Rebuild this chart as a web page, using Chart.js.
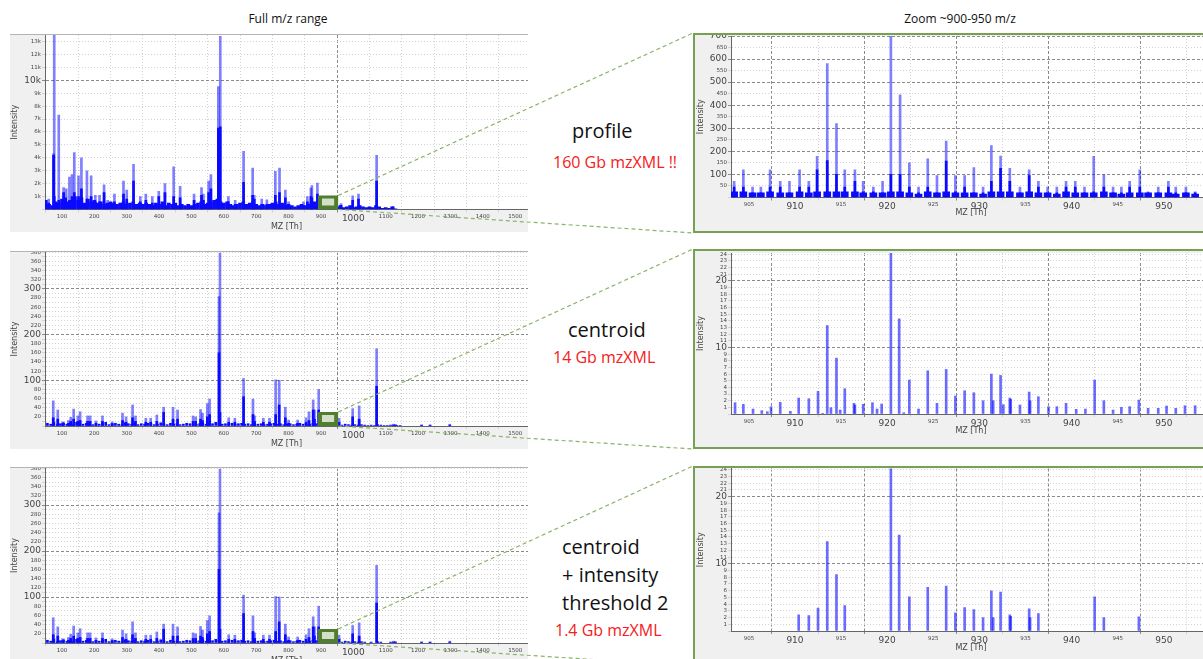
<!DOCTYPE html>
<html>
<head>
<meta charset="utf-8">
<script src="https://cdn.jsdelivr.net/npm/chart.js@4.4.0/dist/chart.umd.min.js"></script>
<style>
body { margin: 0; width: 1203px; height: 659px; overflow: hidden; background: #fff; position: relative; }
.panel { position: absolute; background: #f0f0f0; box-sizing: border-box; overflow: hidden; }
.left { border-top: 1px solid #b4b4b4; }
.right { border: 2px solid #76a152; }
canvas { display: block; }
.txt { position: absolute; white-space: nowrap; line-height: 1; font-family: "Open Sans", sans-serif; color: #111; }
.red { color: #f52020; font-size: 16px; }
.big { font-size: 20px; }
#overlay { position: absolute; left: 0; top: 0; pointer-events: none; }
</style>
</head>
<body>

<div class="txt" style="left:238px;top:13px;width:100px;text-align:center;font-size:12px">Full m/z range</div>
<div class="txt" style="left:890px;top:13px;width:140px;text-align:center;font-size:12px">Zoom ~900-950 m/z</div>

<div class="panel left" style="left:10px;top:34px;width:518px;height:198px"><canvas id="l1" width="518" height="197"></canvas></div>
<div class="panel left" style="left:10px;top:251px;width:518px;height:198px"><canvas id="l2" width="518" height="197"></canvas></div>
<div class="panel left" style="left:10px;top:467px;width:518px;height:200px"><canvas id="l3" width="518" height="199"></canvas></div>

<div class="panel right" id="rp1" style="left:693px;top:33px;width:540px;height:200px"><canvas id="r1" width="536" height="196"></canvas></div>
<div class="panel right" id="rp2" style="left:693px;top:249px;width:540px;height:200px"><canvas id="r2" width="536" height="196"></canvas></div>
<div class="panel right" id="rp3" style="left:693px;top:466px;width:540px;height:200px"><canvas id="r3" width="536" height="196"></canvas></div>

<div class="txt big" style="left:572px;top:121px">profile</div>
<div class="txt red" style="left:553px;top:154px">160 Gb mzXML !!</div>

<div class="txt big" style="left:568px;top:320px">centroid</div>
<div class="txt red" style="left:553px;top:349px">14 Gb mzXML</div>

<div class="txt big" style="left:562px;top:537px">centroid</div>
<div class="txt big" style="left:562px;top:565px">+ intensity</div>
<div class="txt big" style="left:562px;top:593px">threshold 2</div>
<div class="txt red" style="left:555px;top:622px">1.4 Gb mzXML</div>

<canvas id="overlay" width="1203" height="659"></canvas>

<script>
// --- dati ---
const zoomRange = [900, 950];
const threshold = 2;

// profile, full range (m/z, apice, parte scura)
const fullProfileMz = [59, 74, 76, 90, 105, 113, 123, 131, 138, 151, 160, 177, 190, 203, 216, 230, 241, 262, 290, 300,
  321, 342, 359, 379, 399, 418, 445, 465, 508, 531, 537, 553, 560, 583, 589, 614, 635, 661, 689, 694,
  717, 733, 759, 772, 790, 800, 846, 858, 869, 872, 889, 962, 998, 1016, 1072, 1123];
const fullProfileApex = [800, 4300, 13500, 7300, 1700, 1600, 2500, 2700, 4400, 2600, 4000, 3000, 2600, 1100, 1100, 1900, 700, 1200, 2200, 1500,
  3500, 1000, 1200, 1000, 1400, 2000, 3300, 1800, 1200, 1700, 1200, 2200, 2700, 9500, 13400, 1000, 700, 4500, 3200, 1100,
  800, 750, 2950, 3200, 1500, 600, 600, 1000, 1650, 1850, 2050, 450, 1050, 1200, 4200, 250];
const fullProfileCore = [500, 4200, 1000, 700, 1300, 500, 700, 1000, 1300, 1000, 1600, 800, 1000, 600, 600, 1300, 400, 600, 1200, 800,
  2200, 600, 700, 500, 1000, 1300, 1000, 900, 700, 1100, 700, 1300, 1600, 6300, 6400, 600, 400, 2100, 1100, 800,
  400, 400, 1100, 1300, 900, 300, 300, 600, 1000, 900, 1200, 300, 700, 800, 2200, 150];
// fondo denso, un valore ogni 10 m/z da 50
const fullProfileGrassStart = 50;
const fullProfileGrass = [700, 400, 300, 600, 500, 800, 900, 600, 700, 1000,
  700, 900, 500, 800, 600, 700, 500, 600, 400, 500,
  600, 500, 400, 500, 600, 400, 500, 600, 400, 500,
  400, 500, 400, 300, 500, 400, 600, 300, 500, 400,
  500, 300, 400, 300, 400, 300, 400, 500, 600, 400,
  500, 600, 700, 800, 600, 500, 600, 400, 300, 400,
  500, 600, 400, 500, 600, 400, 300, 400, 300, 400,
  500, 600, 400, 500, 300, 400, 300, 200, 300, 400,
  300, 400, 500, 600, 300, 200, 300, 400, 300, 200,
  200, 300, 150, 200, 300, 150, 200, 300, 200, 150,
  200, 150, 300, 200, 100, 150, 100, 200, 50];

// centroid, full range
const fullCentroidMz = [73, 87, 102, 120, 127, 136, 149, 156, 179, 187, 205, 225, 255, 287, 298, 318, 327, 359, 374, 393,
  414, 443, 457, 505, 513, 528, 534, 549, 556, 585, 588, 615, 634, 661, 690, 695, 722, 741, 760, 771,
  790, 800, 828, 854, 863, 876, 880, 893, 956, 998, 1018, 1072, 1124, 1130, 1211, 1237, 1298];
const fullCentroidApex = [55, 35, 9, 12, 19, 37, 22, 31, 22, 22, 11, 22, 9, 28, 20, 46, 22, 17, 17, 24,
  41, 41, 35, 22, 20, 36, 28, 49, 59, 283, 378, 18, 17, 104, 59, 22, 17, 17, 101, 100,
  41, 13, 13, 18, 31, 57, 35, 80, 17, 38, 44, 169, 4, 3, 2, 2, 4];
const fullCentroidCore = [18, 15, 5, 6, 10, 15, 10, 12, 10, 10, 6, 10, 5, 12, 8, 18, 10, 8, 8, 10,
  30, 15, 15, 10, 10, 15, 12, 20, 25, 160, 30, 8, 8, 64, 25, 10, 8, 8, 25, 46,
  18, 6, 6, 8, 12, 35, 15, 35, 8, 20, 15, 87, 2, 2, 2, 2, 2];
const fullCentroidGrassStart = 55;
const fullCentroidGrass = [6, 4, 8, 3, 5, 7, 4, 6, 3, 8,
  5, 4, 6, 7, 3, 5, 4, 6, 8, 3,
  5, 6, 4, 3, 7, 5, 4, 6, 3, 5,
  4, 6, 5, 3, 4, 7, 5, 3, 6, 4,
  5, 3, 4, 6, 5, 3, 4, 5, 7, 4,
  6, 5, 8, 6, 4, 5, 3, 6, 4, 5,
  6, 4, 5, 3, 6, 4, 5, 3, 4, 5,
  6, 4, 5, 3, 4, 5, 3, 4, 6, 4,
  3, 4, 6, 5, 3, 2, 4, 5, 3, 2,
  3, 2, 4, 3, 2, 3, 2, 3, 2, 1,
  2, 1, 3, 2, 1, 1, 2, 1, 1, 1];

// profile, zoom 900-950
const zoomProfileMz = [903.4, 904.4, 905.4, 906.3, 907.3, 908.4, 909.4, 910.5, 911.5, 912.4, 913.5, 914.5, 915.4, 916.5, 917.4, 918.5, 919.5,
  920.4, 921.4, 922.4, 923.4, 924.4, 925.4, 926.4, 927.4, 928.4, 929.4, 930.4, 931.3, 932.3, 933.3, 934.4, 935.4, 936.4,
  937.4, 938.4, 939.4, 940.4, 941.4, 942.4, 943.5, 944.5, 945.4, 946.3, 947.4, 948.3, 949.4, 950.5, 951.3, 952.4, 953.4];
const zoomProfileApex = [70, 120, 45, 45, 120, 70, 70, 120, 70, 178, 580, 320, 120, 120, 70, 45, 70,
  720, 445, 150, 45, 168, 95, 245, 95, 95, 130, 45, 225, 180, 126, 45, 120, 70,
  45, 45, 70, 70, 45, 178, 98, 45, 45, 70, 120, 25, 45, 70, 45, 45, 25];
const zoomProfileCore = [45, 45, 20, 20, 45, 45, 20, 45, 45, 120, 160, 100, 45, 70, 25, 25, 20,
  100, 100, 45, 20, 45, 20, 158, 25, 45, 20, 20, 70, 126, 70, 20, 95, 45,
  20, 20, 45, 45, 20, 25, 45, 20, 20, 45, 45, 20, 20, 45, 20, 20, 20];
const zoomProfileBase = [25, 25, 20, 20, 25, 20, 20, 25, 20, 25, 25, 25, 25, 25, 20, 20, 20,
  25, 25, 20, 15, 25, 20, 25, 20, 20, 20, 15, 25, 25, 25, 20, 25, 20,
  20, 15, 25, 20, 20, 20, 25, 20, 15, 20, 20, 20, 20, 20, 15, 20, 15];

// centroid, zoom 900-950
const zoomCentroidMz = [903.5, 904.4, 905.45, 906.4, 907.0, 907.4, 908.4, 909.5, 910.4, 911.5, 912.5, 913.0, 913.5, 913.9, 914.5, 914.9,
  915.4, 916.4, 916.5, 917.4, 918.4, 918.9, 919.4, 920.4, 921.3, 921.8, 922.4, 923.4, 924.4, 925.4, 926.4, 927.4,
  928.4, 929.4, 930.4, 931.3, 931.5, 932.3, 932.6, 933.3, 933.4, 934.4, 935.4, 935.5, 936.4, 937.5, 938.4, 939.4,
  940.5, 941.5, 942.5, 943.5, 944.5, 945.4, 946.3, 947.3, 948.3, 949.4, 950.3, 951.3, 952.3, 953.4];
const zoomCentroidInt = [1.7, 1.45, 0.75, 0.5, 0.35, 1.1, 1.75, 0.4, 2.4, 2.3, 3.4, 0.1, 13.3, 0.95, 8.4, 0.6,
  3.8, 1.6, 1.35, 1.45, 1.7, 0.75, 1.5, 24.5, 14.3, 0.2, 5.1, 0.75, 6.5, 1.6, 6.7, 2.7,
  3.5, 3.2, 2.0, 6.0, 2.0, 5.8, 1.4, 2.4, 2.2, 1.35, 3.3, 2.0, 2.6, 1.1, 1.1, 1.6,
  0.7, 0.75, 5.1, 2.0, 0.6, 1.0, 1.1, 2.1, 0.85, 0.85, 1.2, 0.85, 1.25, 1.25];

const FONT = '"DejaVu Sans", sans-serif';
const LIGHT = 'rgba(0,0,255,0.5)';
const DARK = '#0a0aff';
const STICK = 'rgba(0,0,255,0.58)';

// helpers
function sticks(xs, ys) { return xs.map((x, i) => ({ x: x, y: ys[i] })); }
function everyTen(start, ys) { return ys.map((y, i) => ({ x: start + i * 10, y: y })); }
function aboveThreshold(points) { return points.filter(p => p.y >= threshold); }

// tick ogni "step" dentro il range (evita gli arrotondamenti automatici di Chart.js)
function stepTicks(step) {
    return scale => {
        const out = [];
        const first = Math.ceil(scale.min / step - 1e-9);
        for (let k = first; k * step <= scale.max + 1e-9; k++) {
            out.push({ value: Math.round(k * step * 1000) / 1000 });
        }
        scale.ticks = out;
    };
}

const plotBg = {
    id: 'plotBg',
    beforeDraw(chart) {
        const { ctx, chartArea: a } = chart;
        ctx.save();
        ctx.fillStyle = '#fff';
        ctx.fillRect(a.left, a.top, a.right - a.left, a.bottom - a.top);
        ctx.restore();
    }
};

// titoli degli assi a distanza fissa dall'area del grafico
const axisTitles = {
    id: 'axisTitles',
    afterDraw(chart, args, opts) {
        const { ctx, chartArea: a } = chart;
        ctx.save();
        ctx.fillStyle = '#444';
        ctx.font = '8px ' + FONT;
        ctx.textAlign = 'center';
        ctx.textBaseline = 'middle';
        const tx = opts.xCenter != null ? opts.xCenter : (a.left + a.right) / 2;
        ctx.fillText('MZ [Th]', tx, a.bottom + opts.xDy);
        ctx.translate(opts.yX, (a.top + a.bottom) / 2);
        ctx.rotate(-Math.PI / 2);
        ctx.fillText('Intensity', 0, 0);
        ctx.restore();
    }
};

function boxOf(chart) {
    const xs = chart.scales.x, a = chart.chartArea;
    return { x1: xs.getPixelForValue(zoomRange[0]) - 3, x2: xs.getPixelForValue(zoomRange[1]) + 1, y1: a.bottom - 14, y2: a.bottom };
}

const zoomBox = {
    id: 'zoomBox',
    afterDatasetsDraw(chart) {
        const b = boxOf(chart), ctx = chart.ctx;
        ctx.save();
        ctx.fillStyle = '#4f7f2c';
        ctx.fillRect(b.x1, b.y1, b.x2 - b.x1, b.y2 - b.y1);
        ctx.fillStyle = 'rgba(255,255,255,0.75)';
        ctx.fillRect(b.x1 + 4, b.y1 + 3, b.x2 - b.x1 - 8, b.y2 - b.y1 - 7);
        ctx.restore();
    }
};

function spectrum(id, cfg) {
    const tickFont = (big) => ({ family: FONT, size: big ? 9 : 5.5 });
    const val = ctx => (ctx && ctx.tick) ? ctx.tick.value : null;
    return new Chart(document.getElementById(id), {
        type: 'bar',
        data: {
            datasets: cfg.datasets.map(d => ({
                data: d.data, backgroundColor: d.color, barThickness: d.w,
                grouped: false, borderWidth: 0
            }))
        },
        options: {
            responsive: false,
            animation: false,
            layout: { padding: { left: 0, right: 0, top: cfg.top, bottom: cfg.bottom } },
            plugins: {
                legend: { display: false }, tooltip: { enabled: false },
                axisTitles: { xDy: cfg.xDy, yX: cfg.yX, xCenter: cfg.xCenter }
            },
            scales: {
                x: {
                    type: 'linear', offset: false, min: cfg.xMin, max: cfg.xMax,
                    afterBuildTicks: stepTicks(cfg.xStep),
                    ticks: {
                        autoSkip: false, maxRotation: 0, padding: 1,
                        color: '#444', font: ctx => tickFont(cfg.xMajor(val(ctx))),
                        callback: v => String(v)
                    },
                    grid: {
                        tickLength: 3,
                        color: ctx => cfg.xMajor(val(ctx)) ? '#8a8a8a' : '#d2d2d2'
                    },
                    border: {
                        display: true, color: '#666',
                        dash: ctx => cfg.xMajor(val(ctx)) ? [3, 2] : [1, 2]
                    },
                    afterFit: s => { s.height = cfg.xH; s.paddingLeft = 0; s.paddingRight = 0; }
                },
                y: {
                    min: 0, max: cfg.yMax,
                    afterBuildTicks: stepTicks(cfg.yStep),
                    ticks: {
                        autoSkip: false, padding: 1,
                        color: '#444', font: ctx => tickFont(cfg.yMajor(val(ctx))),
                        callback: cfg.yLabel
                    },
                    grid: {
                        tickLength: 3,
                        color: ctx => cfg.yMajor(val(ctx)) ? '#8a8a8a' : '#d2d2d2'
                    },
                    border: {
                        display: true, color: '#666',
                        dash: ctx => cfg.yMajor(val(ctx)) ? [3, 2] : [1, 2]
                    },
                    afterFit: s => { s.width = cfg.yW; s.paddingTop = 0; s.paddingBottom = 0; }
                }
            }
        },
        plugins: cfg.box ? [plotBg, zoomBox, axisTitles] : [plotBg, axisTitles]
    });
}

// --- pannelli a sinistra: range completo ---
const leftX = { xMin: 47.5, xMax: 1539.6, xStep: 100, xMajor: v => v === 1000, yW: 35, yX: 5, xDy: 17.5, box: true };

const centroidFull = [
    { data: sticks(fullCentroidMz, fullCentroidCore), color: DARK, w: 2 },
    { data: everyTen(fullCentroidGrassStart, fullCentroidGrass), color: DARK, w: 2 },
    { data: sticks(fullCentroidMz, fullCentroidApex), color: LIGHT, w: 2 }
];

const l1 = spectrum('l1', Object.assign({}, leftX, {
    top: 0, bottom: 0, xH: 22.5, yMax: 13500, yStep: 1000,
    yMajor: v => v === 10000,
    yLabel: v => (v > 0 && v % 1000 === 0) ? (v / 1000) + 'k' : '',
    datasets: [
        { data: sticks(fullProfileMz, fullProfileCore), color: DARK, w: 2 },
        { data: everyTen(fullProfileGrassStart, fullProfileGrass), color: DARK, w: 3 },
        { data: sticks(fullProfileMz, fullProfileApex), color: LIGHT, w: 2 }
    ]
}));

const centroidY = {
    yMax: 380.5, yStep: 10,
    yMajor: v => v > 0 && v % 100 === 0,
    yLabel: v => (v > 0 && v % 20 === 0) ? v : ''
};

const l2 = spectrum('l2', Object.assign({}, leftX, centroidY, {
    top: 0, bottom: 0, xH: 23, xDy: 18, datasets: centroidFull
}));

const l3 = spectrum('l3', Object.assign({}, leftX, centroidY, {
    top: 0, bottom: 2.2, xH: 21.8, xDy: 18,
    datasets: centroidFull.map(d => ({ data: aboveThreshold(d.data), color: d.color, w: d.w }))
}));

// --- pannelli a destra: zoom ---
const rightX = { xMin: 903.06, xMax: 957.29, xStep: 5, xMajor: v => v % 10 === 0, yW: 36, yX: 6, xCenter: 276, xDy: 16.5, box: false };

const r1 = spectrum('r1', Object.assign({}, rightX, {
    top: 1, bottom: 13.2, xH: 20.3, yMax: 700, yStep: 50, xDy: 15.5,
    yMajor: v => v > 0 && v % 100 === 0,
    yLabel: v => v > 0 ? v : '',
    datasets: [
        { data: sticks(zoomProfileMz, zoomProfileCore), color: DARK, w: 2 },
        { data: sticks(zoomProfileMz, zoomProfileBase), color: DARK, w: 7 },
        { data: sticks(zoomProfileMz, zoomProfileApex), color: LIGHT, w: 2 }
    ]
}));

const zoomY = {
    yStep: 1,
    yMajor: v => v > 0 && v % 10 === 0,
    yLabel: v => v > 0 ? v : ''
};

const r2 = spectrum('r2', Object.assign({}, rightX, zoomY, {
    top: 2, bottom: 11.2, xH: 21.8, yMax: 24.2,
    datasets: [{ data: sticks(zoomCentroidMz, zoomCentroidInt), color: STICK, w: 2 }]
}));

const r3 = spectrum('r3', Object.assign({}, rightX, zoomY, {
    top: 0.5, bottom: 11.2, xH: 21.8, yMax: 24.2,
    datasets: [{ data: aboveThreshold(sticks(zoomCentroidMz, zoomCentroidInt)), color: STICK, w: 2 }]
}));

// --- linee tratteggiate di collegamento ---
function drawLinks() {
    const ov = document.getElementById('overlay');
    const ctx = ov.getContext('2d');
    ctx.clearRect(0, 0, ov.width, ov.height);
    ctx.strokeStyle = '#8db36b';
    ctx.lineWidth = 1.2;
    ctx.setLineDash([4, 3]);
    [[l1, 'rp1'], [l2, 'rp2'], [l3, 'rp3']].forEach(([chart, pid]) => {
        const c = chart.canvas.getBoundingClientRect();
        const p = document.getElementById(pid).getBoundingClientRect();
        const b = boxOf(chart);
        ctx.beginPath();
        ctx.moveTo(c.left + b.x2, c.top + b.y1);
        ctx.lineTo(p.left, p.top);
        ctx.moveTo(c.left + b.x2, c.top + b.y2);
        ctx.lineTo(p.left, p.bottom);
        ctx.stroke();
    });
}
drawLinks();
</script>
</body>
</html>
